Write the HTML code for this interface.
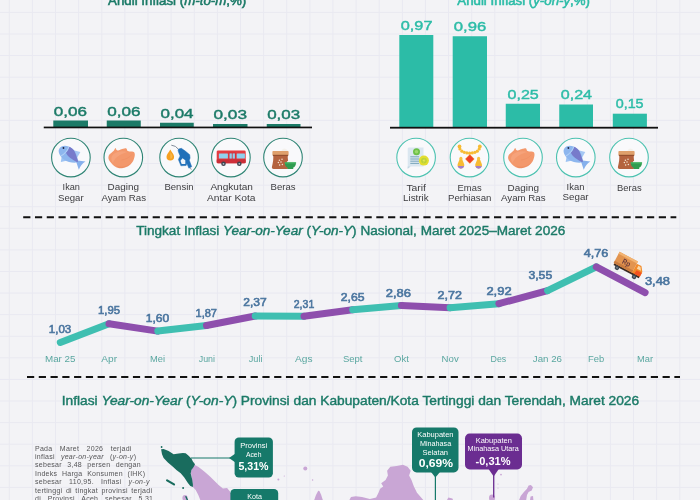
<!DOCTYPE html>
<html><head><meta charset="utf-8"><title>Inflasi</title>
<style>html,body{margin:0;padding:0;background:#f3f3f6;}body{width:700px;height:500px;overflow:hidden;}svg{display:block;font-family:"Liberation Sans",sans-serif;will-change:transform;}</style>
</head><body>
<svg width="700" height="500" viewBox="0 0 700 500">
<rect width="700" height="500" fill="#f3f3f6"/>
<path d="M9.30 0V500M32.42 0V500M55.54 0V500M78.66 0V500M101.78 0V500M124.90 0V500M148.02 0V500M171.14 0V500M194.26 0V500M217.38 0V500M240.50 0V500M263.62 0V500M286.74 0V500M309.86 0V500M332.98 0V500M356.10 0V500M379.22 0V500M402.34 0V500M425.46 0V500M448.58 0V500M471.70 0V500M494.82 0V500M517.94 0V500M541.06 0V500M564.18 0V500M587.30 0V500M610.42 0V500M633.54 0V500M656.66 0V500M679.78 0V500M0 -9.19H700M0 12.40H700M0 33.99H700M0 55.58H700M0 77.17H700M0 98.76H700M0 120.35H700M0 141.94H700M0 163.53H700M0 185.12H700M0 206.71H700M0 228.30H700M0 249.89H700M0 271.48H700M0 293.07H700M0 314.66H700M0 336.25H700M0 357.84H700M0 379.43H700M0 401.02H700M0 422.61H700M0 444.20H700M0 465.79H700M0 487.38H700" stroke="#e9e9f1" stroke-width="1" fill="none"/>
<text x="108" y="5" font-size="13" fill="#1b7a67" stroke="#1b7a67" stroke-width="0.55" textLength="138.3" lengthAdjust="spacingAndGlyphs">Andil Inflasi (<tspan font-style="italic">m-to-m</tspan>,%)</text>
<text x="457.3" y="5" font-size="13" fill="#2cbca7" stroke="#2cbca7" stroke-width="0.55" textLength="132.7" lengthAdjust="spacingAndGlyphs">Andil Inflasi (<tspan font-style="italic">y-on-y</tspan>,%)</text>
<rect x="53.3" y="120.5" width="34.70" height="6.70" fill="#1b7a67"/>
<rect x="106.75" y="120.5" width="34.00" height="6.70" fill="#1b7a67"/>
<rect x="160" y="122.75" width="33.75" height="4.45" fill="#1b7a67"/>
<rect x="213" y="124" width="34.50" height="3.20" fill="#1b7a67"/>
<rect x="266.75" y="124" width="33.75" height="3.20" fill="#1b7a67"/>
<rect x="43.75" y="126.6" width="268.25" height="1.7" fill="#111"/>
<text x="53.75" y="115.75" font-size="13.4" fill="#1b7a67" textLength="33.25" lengthAdjust="spacingAndGlyphs" stroke="#1b7a67" stroke-width="0.42">0,06</text>
<text x="107.2" y="115.75" font-size="13.4" fill="#1b7a67" textLength="33.3" lengthAdjust="spacingAndGlyphs" stroke="#1b7a67" stroke-width="0.42">0,06</text>
<text x="160.5" y="117.9" font-size="13.4" fill="#1b7a67" textLength="33.0" lengthAdjust="spacingAndGlyphs" stroke="#1b7a67" stroke-width="0.42">0,04</text>
<text x="213.5" y="119.2" font-size="13.4" fill="#1b7a67" textLength="33.5" lengthAdjust="spacingAndGlyphs" stroke="#1b7a67" stroke-width="0.42">0,03</text>
<text x="267.2" y="119.2" font-size="13.4" fill="#1b7a67" textLength="33.0" lengthAdjust="spacingAndGlyphs" stroke="#1b7a67" stroke-width="0.42">0,03</text>
<rect x="399.3" y="35" width="34.00" height="92.20" fill="#2cbca7"/>
<rect x="452.7" y="36.25" width="34.30" height="90.95" fill="#2cbca7"/>
<rect x="505.75" y="103.75" width="34.25" height="23.45" fill="#2cbca7"/>
<rect x="559.25" y="104.5" width="33.75" height="22.70" fill="#2cbca7"/>
<rect x="612.8" y="113.7" width="34.10" height="13.50" fill="#2cbca7"/>
<rect x="390" y="126.8" width="268" height="1.8" fill="#111"/>
<text x="400.75" y="30" font-size="13.4" fill="#2cbca7" textLength="31.75" lengthAdjust="spacingAndGlyphs" stroke="#2cbca7" stroke-width="0.42">0,97</text>
<text x="453.75" y="30.5" font-size="13.4" fill="#2cbca7" textLength="32.5" lengthAdjust="spacingAndGlyphs" stroke="#2cbca7" stroke-width="0.42">0,96</text>
<text x="507.5" y="98.5" font-size="13.4" fill="#2cbca7" textLength="31.25" lengthAdjust="spacingAndGlyphs" stroke="#2cbca7" stroke-width="0.42">0,25</text>
<text x="560.75" y="99.25" font-size="13.4" fill="#2cbca7" textLength="31.25" lengthAdjust="spacingAndGlyphs" stroke="#2cbca7" stroke-width="0.42">0,24</text>
<text x="615.7" y="108" font-size="13.4" fill="#2cbca7" textLength="27.9" lengthAdjust="spacingAndGlyphs" stroke="#2cbca7" stroke-width="0.42">0,15</text>
<circle cx="70.9" cy="157.6" r="19.3" fill="#f9f9fb" stroke="#2f8575" stroke-width="1.1"/>
<circle cx="123.3" cy="157.6" r="19.3" fill="#f9f9fb" stroke="#2f8575" stroke-width="1.1"/>
<circle cx="179.1" cy="157.6" r="19.3" fill="#f9f9fb" stroke="#2f8575" stroke-width="1.1"/>
<circle cx="230.9" cy="157.6" r="19.3" fill="#f9f9fb" stroke="#2f8575" stroke-width="1.1"/>
<circle cx="283.0" cy="157.6" r="19.3" fill="#f9f9fb" stroke="#2f8575" stroke-width="1.1"/>
<circle cx="416.1" cy="157.6" r="19.3" fill="#f9f9fb" stroke="#4cc2b0" stroke-width="1.1"/>
<circle cx="469.5" cy="157.6" r="19.3" fill="#f9f9fb" stroke="#4cc2b0" stroke-width="1.1"/>
<circle cx="523.0" cy="157.6" r="19.3" fill="#f9f9fb" stroke="#4cc2b0" stroke-width="1.1"/>
<circle cx="575.8" cy="157.6" r="19.3" fill="#f9f9fb" stroke="#4cc2b0" stroke-width="1.1"/>
<circle cx="629.0" cy="157.6" r="19.3" fill="#f9f9fb" stroke="#4cc2b0" stroke-width="1.1"/>
<g transform="translate(68.70,154.70) rotate(39)">
<path d="M9 0L17.4 -5.2Q15.6 0 17.4 5.4Z" fill="#86b0ec"/>
<path d="M0 -6.2L7.4 -9.4L8.4 -3.2Z" fill="#a6c8f4"/>
<path d="M-4.4 5.6L-1.6 10.6L2.6 5.4Z" fill="#9dc3f3"/>
<path d="M-11.2 0.4C-11.2 -4.2 -6.4 -7 -1 -7C4.4 -7 8.4 -3.4 11.4 -0.9V0.9C8.4 3.6 4.4 6.8 -1 6.8C-6.4 6.8 -11.2 4.4 -11.2 0.4Z" fill="#8db6ee"/>
<path d="M-4.6 -6.5C-2.6 -7 1 -7.2 3 -6C6.4 -4.2 9 -2.4 11.4 -0.9V0.4C6 1.6 0 2 -3.4 0.2C-3 -2 -3.4 -4.4 -4.6 -6.5Z" fill="#777bcb"/>
<path d="M-4.8 -6.2Q-2.8 0 -5.2 5.9" stroke="#b3d0f6" stroke-width="1" fill="none"/>
<circle cx="-8.3" cy="-2" r="0.95" fill="#1c2340"/>
</g>
<g transform="translate(123.30,157.60)">
<path d="M-14.9 -0.4C-14.8 -1.3 -14.5 -2.4 -13.9 -3.2C-13.3 -4.0 -12.2 -4.6 -11.5 -5.2C-10.8 -5.8 -10.1 -6.1 -9.5 -6.8C-8.9 -7.5 -8.4 -9.5 -7.9 -9.6C-7.4 -9.7 -7.2 -8.0 -6.7 -7.6C-6.2 -7.2 -5.9 -7.1 -5.1 -7.2C-4.3 -7.3 -3.0 -8.1 -1.9 -8.4C-0.8 -8.7 0.4 -9.1 1.3 -9.2C2.2 -9.3 2.8 -9.2 3.3 -8.8C3.8 -8.4 3.5 -7.3 4.1 -6.8C4.7 -6.3 5.8 -6.2 6.9 -6C8.0 -5.8 9.7 -6.1 10.5 -5.6C11.3 -5.1 11.4 -4.2 11.5 -3.2C11.6 -2.2 11.2 -0.7 10.9 0.4C10.6 1.5 10.4 2.5 9.7 3.6C9.0 4.7 8.0 5.9 6.9 6.8C5.8 7.7 4.2 8.6 2.9 9.2C1.6 9.8 0.2 10.4 -1.1 10.6C-2.4 10.8 -3.8 10.8 -5.1 10.4C-6.4 10.0 -7.9 9.3 -9.1 8.4C-10.3 7.5 -11.4 6.2 -12.3 5.2C-13.2 4.2 -13.9 3.3 -14.3 2.4C-14.7 1.5 -15.0 0.5 -14.9 -0.4Z" fill="#f3986c"/>
<path d="M-10 -3.4C-6 -6.4 0 -7.2 4.4 -5.6C1 -4.6 -3.6 -3 -6.8 -0.2C-8.6 1.4 -9.8 3.4 -10.2 5.2C-12.6 2.8 -12.4 -1.2 -10 -3.4Z" fill="#f7a680" opacity="0.7"/>
<path d="M-7 8.2C-2 10.2 4 9 8 5.2C6.6 9 0.6 11 -3.8 10.4C-5 10 -6.2 9.2 -7 8.2Z" fill="#ec8a5e" opacity="0.7"/>
<path d="M-2 2.4C2 2 6.4 0 8.4 -3" stroke="#ec8a5e" stroke-width="0.7" fill="none" opacity="0.6"/>
</g>
<g transform="translate(179.10,157.60)">
<path d="M-8.8 -8C-7.4 -5.4 -5 -3 -5 -0.9A3.8 3.8 0 0 1 -12.6 -0.9C-12.6 -3 -10.2 -5.4 -8.8 -8Z" fill="#f6a021"/>
<path d="M-8.8 -5.6C-8 -4 -6.6 -2.4 -6.6 -1A2.2 2.2 0 0 1 -8.8 1.2Z" fill="#f8b546"/>
<path d="M-7.4 -12.4Q-3.4 -12.2 -0.6 -8.4" stroke="#7c8794" stroke-width="0.95" fill="none" stroke-linecap="round"/>
<path d="M-0.6 -8.5L2.2 -9.3L6.2 -6.5L10.6 -2.9L11 0.3L10.2 2.7L12.6 9.1L9.8 10.6L7.8 5.9L7 7.9L1.8 8.2L-0.7 1.9L1 -1.7L-0.2 -4.5L-1 -6.9Z" fill="#2070b9" stroke="#2070b9" stroke-width="0.5" stroke-linejoin="round"/>
<path d="M3.4 0.7L6.2 2.7V6.3H2.6L1.4 3.1Z" fill="#eef4fa"/>
<path d="M10.6 10.2L11.6 9.8L12.6 12.2L12 12.5Z" fill="#8a97a6"/>
</g>
<g transform="translate(230.90,157.60)">
<rect x="-14.2" y="-7.2" width="29" height="12.8" rx="1.4" fill="#e23c41"/>
<rect x="-14.2" y="1.6" width="29" height="4" rx="0.8" fill="#c92f38"/>
<rect x="-12" y="-4.2" width="9" height="5" rx="0.5" fill="#8fd1ee"/>
<rect x="5.8" y="-4.2" width="8.2" height="5" rx="0.5" fill="#8fd1ee"/>
<rect x="-2.2" y="-5" width="7" height="10" fill="#cf2f3a"/>
<rect x="-1.4" y="-4.2" width="2.3" height="5.2" fill="#8fd1ee"/>
<rect x="1.7" y="-4.2" width="2.3" height="5.2" fill="#8fd1ee"/>
<circle cx="-7.4" cy="6.2" r="2.3" fill="#3e4450"/><circle cx="-7.4" cy="6.2" r="0.9" fill="#b9c2cc"/>
<circle cx="8.4" cy="6.2" r="2.3" fill="#3e4450"/><circle cx="8.4" cy="6.2" r="0.9" fill="#b9c2cc"/>
</g>
<g transform="translate(283.00,157.60)">
<path d="M-1.6 -6.4C-0.6 -9.8 2.8 -10.4 5 -6.4Z" fill="#f4f1ec"/>
<path d="M-9.8 -2.6L4.8 -2.6C4.4 1 5.6 5 6 9C6.2 10.6 5.4 11.4 4 11.4L-9.4 11.4C-10.8 11.4 -11.4 10.4 -11 9C-10 5 -9.4 1 -9.8 -2.6Z" fill="#b4633f"/>
<rect x="-10.6" y="-6.6" width="16.2" height="4.4" rx="0.8" fill="#dfa06c"/>
<rect x="-10.2" y="-2.8" width="15.4" height="1.1" fill="#8f4a2c"/>
<g fill="#f3e4d2"><circle cx="-3.6" cy="2.6" r="0.75"/><circle cx="-1" cy="1.6" r="0.75"/><circle cx="-4.6" cy="5" r="0.75"/><circle cx="-2" cy="4.4" r="0.75"/><circle cx="-3.4" cy="7.4" r="0.75"/><circle cx="-0.6" cy="6.8" r="0.75"/></g>
<ellipse cx="7.4" cy="4.8" rx="3.6" ry="1.9" fill="#f4f6f2"/>
<path d="M1.8 5H13C13 8.2 11.4 10 10 10.2L10.4 11.4H4.4L4.8 10.2C3.4 10 1.8 8.2 1.8 5Z" fill="#2f9c50"/>
<rect x="1.6" y="4.6" width="11.6" height="1.3" rx="0.6" fill="#46b565"/>
</g>
<g transform="translate(416.10,157.60)">
<path d="M-7 -10.2H7.4V8.8H-5.6L-8.4 11.2V-8.8Q-8.4 -10.2 -7 -10.2Z" fill="#dbe7f0"/>
<path d="M-5.6 8.8L-8.4 11.2V8.8Z" fill="#c3d6e2"/>
<path d="M-5.8 -0.8H3M-5.8 1.4H3M-5.8 3.6H3M-5.8 5.8H3" stroke="#7ba6bb" stroke-width="1" fill="none"/>
<circle cx="0.4" cy="-5.9" r="3.5" fill="#6dc048"/><circle cx="0.4" cy="-5.9" r="1.8" fill="#9bd86c"/>
<circle cx="7.8" cy="3" r="5" fill="#e3de2f"/><circle cx="7.8" cy="3" r="2.9" fill="#bcd33a"/>
<path d="M8.5 0.8L6.3 3.5H7.7L7.1 5.4L9.4 2.6H8Z" fill="#e8e65a"/>
</g>
<g transform="translate(469.50,157.60)">
<circle cx="-10" cy="-11.2" r="1.9" fill="#f7bb34"/><circle cx="-9.6" cy="-8.6" r="1.6" fill="#f7bb34"/><circle cx="-7.6" cy="-6.4" r="1.6" fill="#f7bb34"/><circle cx="-5.2" cy="-5.3" r="1.6" fill="#f7bb34"/><circle cx="-2.6" cy="-4.7" r="1.6" fill="#f7bb34"/><circle cx="0.1" cy="-4.4" r="1.6" fill="#f7bb34"/><circle cx="2.8" cy="-4.7" r="1.6" fill="#f7bb34"/><circle cx="5.4" cy="-5.3" r="1.6" fill="#f7bb34"/><circle cx="7.8" cy="-6.4" r="1.6" fill="#f7bb34"/><circle cx="9.7" cy="-8.6" r="1.6" fill="#f7bb34"/><circle cx="10.3" cy="-11.2" r="1.9" fill="#f7bb34"/>
<path d="M0.3 -3.4L5 1.4L0.3 6.2L-4.4 1.4Z" fill="#f7842a"/>
<path d="M0.3 -2.6L4.2 1.4L0.3 5.4L-3.6 1.4Z" fill="#ee3f2a"/>
<path d="M-9.7 1.2L-11.8 6.4A3.4 3.4 0 1 0 -5.3999999999999995 6.4L-7.5 1.2Z" fill="#f7bb34"/><circle cx="-8.6" cy="0.8" r="1.55" fill="#f8c23e"/><path d="M-11.899999999999999 8.5A3.4 3.4 0 0 0 -5.3 8.5Z" fill="#a27fca"/><path d="M8.0 1.2L5.8999999999999995 6.4A3.4 3.4 0 1 0 12.3 6.4L10.2 1.2Z" fill="#f7bb34"/><circle cx="9.1" cy="0.8" r="1.55" fill="#f8c23e"/><path d="M5.8 8.5A3.4 3.4 0 0 0 12.399999999999999 8.5Z" fill="#a27fca"/>
</g>
<g transform="translate(523.00,157.60)">
<path d="M-14.9 -0.4C-14.8 -1.3 -14.5 -2.4 -13.9 -3.2C-13.3 -4.0 -12.2 -4.6 -11.5 -5.2C-10.8 -5.8 -10.1 -6.1 -9.5 -6.8C-8.9 -7.5 -8.4 -9.5 -7.9 -9.6C-7.4 -9.7 -7.2 -8.0 -6.7 -7.6C-6.2 -7.2 -5.9 -7.1 -5.1 -7.2C-4.3 -7.3 -3.0 -8.1 -1.9 -8.4C-0.8 -8.7 0.4 -9.1 1.3 -9.2C2.2 -9.3 2.8 -9.2 3.3 -8.8C3.8 -8.4 3.5 -7.3 4.1 -6.8C4.7 -6.3 5.8 -6.2 6.9 -6C8.0 -5.8 9.7 -6.1 10.5 -5.6C11.3 -5.1 11.4 -4.2 11.5 -3.2C11.6 -2.2 11.2 -0.7 10.9 0.4C10.6 1.5 10.4 2.5 9.7 3.6C9.0 4.7 8.0 5.9 6.9 6.8C5.8 7.7 4.2 8.6 2.9 9.2C1.6 9.8 0.2 10.4 -1.1 10.6C-2.4 10.8 -3.8 10.8 -5.1 10.4C-6.4 10.0 -7.9 9.3 -9.1 8.4C-10.3 7.5 -11.4 6.2 -12.3 5.2C-13.2 4.2 -13.9 3.3 -14.3 2.4C-14.7 1.5 -15.0 0.5 -14.9 -0.4Z" fill="#f3986c"/>
<path d="M-10 -3.4C-6 -6.4 0 -7.2 4.4 -5.6C1 -4.6 -3.6 -3 -6.8 -0.2C-8.6 1.4 -9.8 3.4 -10.2 5.2C-12.6 2.8 -12.4 -1.2 -10 -3.4Z" fill="#f7a680" opacity="0.7"/>
<path d="M-7 8.2C-2 10.2 4 9 8 5.2C6.6 9 0.6 11 -3.8 10.4C-5 10 -6.2 9.2 -7 8.2Z" fill="#ec8a5e" opacity="0.7"/>
<path d="M-2 2.4C2 2 6.4 0 8.4 -3" stroke="#ec8a5e" stroke-width="0.7" fill="none" opacity="0.6"/>
</g>
<g transform="translate(573.60,154.70) rotate(39)">
<path d="M9 0L17.4 -5.2Q15.6 0 17.4 5.4Z" fill="#86b0ec"/>
<path d="M0 -6.2L7.4 -9.4L8.4 -3.2Z" fill="#a6c8f4"/>
<path d="M-4.4 5.6L-1.6 10.6L2.6 5.4Z" fill="#9dc3f3"/>
<path d="M-11.2 0.4C-11.2 -4.2 -6.4 -7 -1 -7C4.4 -7 8.4 -3.4 11.4 -0.9V0.9C8.4 3.6 4.4 6.8 -1 6.8C-6.4 6.8 -11.2 4.4 -11.2 0.4Z" fill="#8db6ee"/>
<path d="M-4.6 -6.5C-2.6 -7 1 -7.2 3 -6C6.4 -4.2 9 -2.4 11.4 -0.9V0.4C6 1.6 0 2 -3.4 0.2C-3 -2 -3.4 -4.4 -4.6 -6.5Z" fill="#777bcb"/>
<path d="M-4.8 -6.2Q-2.8 0 -5.2 5.9" stroke="#b3d0f6" stroke-width="1" fill="none"/>
<circle cx="-8.3" cy="-2" r="0.95" fill="#1c2340"/>
</g>
<g transform="translate(629.00,157.60)">
<path d="M-1.6 -6.4C-0.6 -9.8 2.8 -10.4 5 -6.4Z" fill="#f4f1ec"/>
<path d="M-9.8 -2.6L4.8 -2.6C4.4 1 5.6 5 6 9C6.2 10.6 5.4 11.4 4 11.4L-9.4 11.4C-10.8 11.4 -11.4 10.4 -11 9C-10 5 -9.4 1 -9.8 -2.6Z" fill="#b4633f"/>
<rect x="-10.6" y="-6.6" width="16.2" height="4.4" rx="0.8" fill="#dfa06c"/>
<rect x="-10.2" y="-2.8" width="15.4" height="1.1" fill="#8f4a2c"/>
<g fill="#f3e4d2"><circle cx="-3.6" cy="2.6" r="0.75"/><circle cx="-1" cy="1.6" r="0.75"/><circle cx="-4.6" cy="5" r="0.75"/><circle cx="-2" cy="4.4" r="0.75"/><circle cx="-3.4" cy="7.4" r="0.75"/><circle cx="-0.6" cy="6.8" r="0.75"/></g>
<ellipse cx="7.4" cy="4.8" rx="3.6" ry="1.9" fill="#f4f6f2"/>
<path d="M1.8 5H13C13 8.2 11.4 10 10 10.2L10.4 11.4H4.4L4.8 10.2C3.4 10 1.8 8.2 1.8 5Z" fill="#2f9c50"/>
<rect x="1.6" y="4.6" width="11.6" height="1.3" rx="0.6" fill="#46b565"/>
</g>
<text x="62.6" y="190" font-size="9.3" fill="#3d3d40" textLength="17.4" lengthAdjust="spacingAndGlyphs">Ikan</text>
<text x="58" y="200.6" font-size="9.3" fill="#3d3d40" textLength="25.6" lengthAdjust="spacingAndGlyphs">Segar</text>
<text x="107.6" y="190" font-size="9.3" fill="#3d3d40" textLength="31.4" lengthAdjust="spacingAndGlyphs">Daging</text>
<text x="101.4" y="200.6" font-size="9.3" fill="#3d3d40" textLength="44.6" lengthAdjust="spacingAndGlyphs">Ayam Ras</text>
<text x="164.4" y="190" font-size="9.3" fill="#3d3d40" textLength="29.2" lengthAdjust="spacingAndGlyphs">Bensin</text>
<text x="210.4" y="190" font-size="9.3" fill="#3d3d40" textLength="42.6" lengthAdjust="spacingAndGlyphs">Angkutan</text>
<text x="207" y="200.6" font-size="9.3" fill="#3d3d40" textLength="48.6" lengthAdjust="spacingAndGlyphs">Antar Kota</text>
<text x="270.6" y="190" font-size="9.3" fill="#3d3d40" textLength="25.0" lengthAdjust="spacingAndGlyphs">Beras</text>
<text x="406.4" y="191" font-size="9.3" fill="#3d3d40" textLength="19.6" lengthAdjust="spacingAndGlyphs">Tarif</text>
<text x="403" y="201.4" font-size="9.3" fill="#3d3d40" textLength="25.6" lengthAdjust="spacingAndGlyphs">Listrik</text>
<text x="457.6" y="191" font-size="9.3" fill="#3d3d40" textLength="24.0" lengthAdjust="spacingAndGlyphs">Emas</text>
<text x="448" y="201.4" font-size="9.3" fill="#3d3d40" textLength="43.4" lengthAdjust="spacingAndGlyphs">Perhiasan</text>
<text x="507.6" y="191" font-size="9.3" fill="#3d3d40" textLength="31.4" lengthAdjust="spacingAndGlyphs">Daging</text>
<text x="501" y="201.4" font-size="9.3" fill="#3d3d40" textLength="44.6" lengthAdjust="spacingAndGlyphs">Ayam Ras</text>
<text x="566.6" y="189.6" font-size="9.3" fill="#3d3d40" textLength="17.8" lengthAdjust="spacingAndGlyphs">Ikan</text>
<text x="562.6" y="199.9" font-size="9.3" fill="#3d3d40" textLength="26.0" lengthAdjust="spacingAndGlyphs">Segar</text>
<text x="617" y="191" font-size="9.3" fill="#3d3d40" textLength="24.6" lengthAdjust="spacingAndGlyphs">Beras</text>
<path d="M23.2 217.2H676.3" stroke="#111" stroke-width="2" stroke-dasharray="7.2 4.57" fill="none"/>
<path d="M27 376.9H680" stroke="#111" stroke-width="2" stroke-dasharray="7.2 4.57" fill="none"/>
<text x="136.25" y="235" font-size="12.6" fill="#1b7a67" stroke="#1b7a67" stroke-width="0.4" textLength="429" lengthAdjust="spacingAndGlyphs">Tingkat Inflasi <tspan font-style="italic">Year-on-Year</tspan> (<tspan font-style="italic">Y-on-Y</tspan>) Nasional, Maret 2025–Maret 2026</text>
<path d="M60.3 342.5L109 323.8" stroke="#3fbfb1" stroke-width="7" stroke-linecap="round" fill="none"/>
<path d="M109 323.8L157.8 331.1" stroke="#8e4fad" stroke-width="7" stroke-linecap="round" fill="none"/>
<path d="M157.8 331.1L206.5 325.5" stroke="#3fbfb1" stroke-width="7" stroke-linecap="round" fill="none"/>
<path d="M206.5 325.5L255.2 316" stroke="#8e4fad" stroke-width="7" stroke-linecap="round" fill="none"/>
<path d="M255.2 316L304 316.2" stroke="#3fbfb1" stroke-width="7" stroke-linecap="round" fill="none"/>
<path d="M304 316.2L352.7 309.7" stroke="#8e4fad" stroke-width="7" stroke-linecap="round" fill="none"/>
<path d="M352.7 309.7L401.4 305.4" stroke="#3fbfb1" stroke-width="7" stroke-linecap="round" fill="none"/>
<path d="M401.4 305.4L450.1 307.8" stroke="#8e4fad" stroke-width="7" stroke-linecap="round" fill="none"/>
<path d="M450.1 307.8L498.9 303.7" stroke="#3fbfb1" stroke-width="7" stroke-linecap="round" fill="none"/>
<path d="M498.9 303.7L547.6 290.6" stroke="#8e4fad" stroke-width="7" stroke-linecap="round" fill="none"/>
<path d="M547.6 290.6L596.3 266.8" stroke="#3fbfb1" stroke-width="7" stroke-linecap="round" fill="none"/>
<path d="M596.3 266.8L645.1 292.6" stroke="#8e4fad" stroke-width="7" stroke-linecap="round" fill="none"/>
<text x="48.75" y="332.5" font-size="11.6" fill="#4a759f" textLength="22.5" lengthAdjust="spacingAndGlyphs" stroke="#4a759f" stroke-width="0.6">1,03</text>
<text x="98" y="313.75" font-size="11.6" fill="#4a759f" textLength="22" lengthAdjust="spacingAndGlyphs" stroke="#4a759f" stroke-width="0.6">1,95</text>
<text x="145.75" y="321.75" font-size="11.6" fill="#4a759f" textLength="23.5" lengthAdjust="spacingAndGlyphs" stroke="#4a759f" stroke-width="0.6">1,60</text>
<text x="195.5" y="316.75" font-size="11.6" fill="#4a759f" textLength="21.5" lengthAdjust="spacingAndGlyphs" stroke="#4a759f" stroke-width="0.6">1,87</text>
<text x="243.25" y="306.25" font-size="11.6" fill="#4a759f" textLength="23.5" lengthAdjust="spacingAndGlyphs" stroke="#4a759f" stroke-width="0.6">2,37</text>
<text x="293.75" y="307.5" font-size="11.6" fill="#4a759f" textLength="20.5" lengthAdjust="spacingAndGlyphs" stroke="#4a759f" stroke-width="0.6">2,31</text>
<text x="340.75" y="300.5" font-size="11.6" fill="#4a759f" textLength="23.75" lengthAdjust="spacingAndGlyphs" stroke="#4a759f" stroke-width="0.6">2,65</text>
<text x="385.8" y="296.8" font-size="11.6" fill="#4a759f" textLength="25.2" lengthAdjust="spacingAndGlyphs" stroke="#4a759f" stroke-width="0.6">2,86</text>
<text x="437.6" y="298.8" font-size="11.6" fill="#4a759f" textLength="24.4" lengthAdjust="spacingAndGlyphs" stroke="#4a759f" stroke-width="0.6">2,72</text>
<text x="486.4" y="294.6" font-size="11.6" fill="#4a759f" textLength="25.2" lengthAdjust="spacingAndGlyphs" stroke="#4a759f" stroke-width="0.6">2,92</text>
<text x="528.4" y="279.2" font-size="11.6" fill="#4a759f" textLength="23.8" lengthAdjust="spacingAndGlyphs" stroke="#4a759f" stroke-width="0.6">3,55</text>
<text x="583.8" y="256.8" font-size="11.6" fill="#4a759f" textLength="24.6" lengthAdjust="spacingAndGlyphs" stroke="#4a759f" stroke-width="0.6">4,76</text>
<text x="644.9" y="285.4" font-size="11.6" fill="#4a759f" textLength="25.1" lengthAdjust="spacingAndGlyphs" stroke="#4a759f" stroke-width="0.6">3,48</text>
<text x="45" y="362.2" font-size="9.3" fill="#5aa7a0" textLength="30.5" lengthAdjust="spacingAndGlyphs">Mar 25</text>
<text x="101.25" y="362.2" font-size="9.3" fill="#5aa7a0" textLength="15.75" lengthAdjust="spacingAndGlyphs">Apr</text>
<text x="150" y="362.2" font-size="9.3" fill="#5aa7a0" textLength="15" lengthAdjust="spacingAndGlyphs">Mei</text>
<text x="198.75" y="362.2" font-size="9.3" fill="#5aa7a0" textLength="16.25" lengthAdjust="spacingAndGlyphs">Juni</text>
<text x="248.75" y="362.2" font-size="9.3" fill="#5aa7a0" textLength="13.75" lengthAdjust="spacingAndGlyphs">Juli</text>
<text x="295" y="362.2" font-size="9.3" fill="#5aa7a0" textLength="17.5" lengthAdjust="spacingAndGlyphs">Ags</text>
<text x="343" y="362.2" font-size="9.3" fill="#5aa7a0" textLength="19.5" lengthAdjust="spacingAndGlyphs">Sept</text>
<text x="394" y="362.2" font-size="9.3" fill="#5aa7a0" textLength="14.8" lengthAdjust="spacingAndGlyphs">Okt</text>
<text x="441.6" y="362.2" font-size="9.3" fill="#5aa7a0" textLength="17.1" lengthAdjust="spacingAndGlyphs">Nov</text>
<text x="490.6" y="362.2" font-size="9.3" fill="#5aa7a0" textLength="15.7" lengthAdjust="spacingAndGlyphs">Des</text>
<text x="532.8" y="362.2" font-size="9.3" fill="#5aa7a0" textLength="29.2" lengthAdjust="spacingAndGlyphs">Jan 26</text>
<text x="588" y="362.2" font-size="9.3" fill="#5aa7a0" textLength="16.2" lengthAdjust="spacingAndGlyphs">Feb</text>
<text x="637" y="362.2" font-size="9.3" fill="#5aa7a0" textLength="16" lengthAdjust="spacingAndGlyphs">Mar</text>
<g transform="translate(614,264) rotate(28)">
<rect x="0" y="-1.2" width="28.6" height="2.2" fill="#3b2a22"/>
<rect x="-0.8" y="-13.4" width="20.8" height="12.6" fill="#e2944f"/>
<rect x="-0.8" y="-13.4" width="20.8" height="2.2" fill="#f3b472"/>
<rect x="-0.8" y="-3.2" width="20.8" height="2.4" fill="#c97b3f"/>
<path d="M20 -11H25.2L28.8 -6.2V-0.8H20Z" fill="#f38b2a"/>
<path d="M23 -5.2H28.8V-0.8H22.2Z" fill="#f4521f"/>
<path d="M22.4 -9.8H24.8L27 -6.6H22.4Z" fill="#fbd9a8"/>
<text x="6.2" y="-4.4" font-size="7.6" font-weight="bold" fill="#6d3b3c" textLength="8.4" lengthAdjust="spacingAndGlyphs">Rp</text>
<circle cx="4.4" cy="1.9" r="2.3" fill="#3f4853"/><circle cx="4.4" cy="1.9" r="0.9" fill="#7d8892"/>
<circle cx="23.7" cy="1.9" r="2.3" fill="#3f4853"/><circle cx="23.7" cy="1.9" r="0.9" fill="#7d8892"/>
</g>
<text x="61.75" y="404.5" font-size="12.6" fill="#1b7a67" stroke="#1b7a67" stroke-width="0.4" textLength="577.4" lengthAdjust="spacingAndGlyphs">Inflasi <tspan font-style="italic">Year-on-Year</tspan> (<tspan font-style="italic">Y-on-Y</tspan>) Provinsi dan Kabupaten/Kota Tertinggi dan Terendah, Maret 2026</text>
<text x="35" y="450.6" font-size="7.0" fill="#555557" letter-spacing="0.28" word-spacing="5.175">Pada Maret 2026 terjadi</text>
<text x="35" y="458.8" font-size="7.0" fill="#555557" letter-spacing="0.28" word-spacing="3.828">inflasi <tspan font-style="italic">year-on-year</tspan> (<tspan font-style="italic">y-on-y</tspan>)</text>
<text x="35" y="467.2" font-size="7.0" fill="#555557" letter-spacing="0.28" word-spacing="3.158">sebesar 3,48 persen dengan</text>
<text x="35" y="475.6" font-size="7.0" fill="#555557" letter-spacing="0.28" word-spacing="2.463">Indeks Harga Konsumen (IHK)</text>
<text x="35" y="484.2" font-size="7.0" fill="#555557" letter-spacing="0.28" word-spacing="4.982">sebesar 110,95. Inflasi <tspan font-style="italic">y-on-y</tspan></text>
<text x="35" y="492.5" font-size="7.0" fill="#555557" letter-spacing="0.28" word-spacing="1.242">tertinggi di tingkat provinsi terjadi</text>
<text x="35" y="501" font-size="7.0" fill="#555557" letter-spacing="0.28" word-spacing="4.484">di Provinsi Aceh sebesar 5,31</text>
<polygon points="193.6,464.3 198.6,467.1 204.3,471.4 210.0,476.4 214.3,480.7 218.6,485.0 222.9,488.6 227.1,488.1 230.0,491.4 231.7,495.0 233.6,502.1 235.7,506.4 198.6,506.4 200.3,500.0 198.3,495.0 195.7,490.0 192.9,487.1 191.7,477.9 190.7,472.1" fill="#c9a6d5"/>
<polygon points="161.1,449.3 163.6,448.9 168.6,451.0 173.6,454.3 178.6,453.6 182.9,452.9 185.7,453.3 188.6,455.7 191.4,458.6 192.9,461.4 195.0,464.3 193.6,467.1 191.4,470.0 190.7,473.6 192.1,479.3 192.9,484.3 192.9,487.1 190.3,486.1 187.9,482.9 184.3,477.6 180.7,473.3 176.4,470.0 172.9,466.7 167.9,462.4 163.6,458.1 162.0,454.3" fill="#196c5e"/>
<circle cx="161.6" cy="447.0" r="0.9" fill="#196c5e"/>
<path d="M167.1 480.4L174.0 484.4" stroke="#196c5e" stroke-width="2.2" stroke-linecap="round"/>
<circle cx="183.1" cy="487.9" r="1" fill="#196c5e"/>
<ellipse cx="185.0" cy="497.9" rx="2.6" ry="3" fill="#c9a6d5"/>
<path d="M186.0 496.7L187.4 500.0" stroke="#196c5e" stroke-width="1.4" stroke-linecap="round"/>
<circle cx="305.3" cy="468.6" r="2" fill="#c9a6d5"/>
<circle cx="278.4" cy="479.6" r="1" fill="#c9a6d5"/>
<circle cx="284.3" cy="476" r="0.6" fill="#c9a6d5"/>
<circle cx="312.6" cy="480" r="0.7" fill="#c9a6d5"/>
<polygon points="318.2,490.8 319.4,491 321,494.4 322.8,500 314.2,500 316,495" fill="#c9a6d5"/>
<polygon points="349.4,499.9 351.0,497.1 355.7,496.2 362.0,497.1 369.9,499.0 376.1,497.4 378.5,492.7 380.1,488.8 383.2,486.4 381.2,483.3 385.6,480.1 387.9,475.4 387.1,470.7 390.3,466.8 396.6,466.0 402.9,464.7 407.6,466.8 410.7,470.7 409.1,475.4 411.5,480.1 413.9,486.4 417.0,492.7 423.3,499.9" fill="#c9a6d5"/>
<polygon points="447,500 448.4,497.6 452.4,498.4 453,500" fill="#c9a6d5"/>
<polygon points="530.9,484.9 533.0,487.2 531.7,490.4 528.6,491.9 527.0,495.1 526.2,499.9 519.1,499.9 520.7,495.9 523.9,491.9 527.0,488.8 528.6,485.6" fill="#c9a6d5"/>
<polygon points="530,500 530.6,496.6 533,496 533.4,500" fill="#c9a6d5"/>
<circle cx="501" cy="474.6" r="0.9" fill="#c9a6d5"/><circle cx="498" cy="484" r="0.5" fill="#c9a6d5"/><circle cx="498" cy="488" r="0.5" fill="#c9a6d5"/>
<ellipse cx="492" cy="498" rx="3" ry="3.4" fill="#c9a6d5"/>
<path d="M191 458H231" stroke="#16796a" stroke-width="1"/>
<polygon points="229,458 235.5,453.4 235.5,462.6" fill="#16796a"/>
<rect x="234.6" y="437.6" width="38.3" height="39.8" rx="4.2" fill="#16796a"/>
<text x="253.7" y="448.4" font-size="7.4" fill="#fff" text-anchor="middle" textLength="27" lengthAdjust="spacingAndGlyphs">Provinsi</text>
<text x="253.7" y="456.6" font-size="7.4" fill="#fff" text-anchor="middle" textLength="15.5" lengthAdjust="spacingAndGlyphs">Aceh</text>
<text x="238.4" y="470.2" font-size="11.2" font-weight="bold" fill="#fff" textLength="30.2" lengthAdjust="spacingAndGlyphs">5,31%</text>
<rect x="230.4" y="489" width="47.8" height="20" rx="4.2" fill="#16796a"/>
<text x="247.3" y="498.7" font-size="7.4" fill="#fff" textLength="14.6" lengthAdjust="spacingAndGlyphs">Kota</text>
<path d="M435.4 474V500" stroke="#16796a" stroke-width="1.2"/>
<polygon points="430.6,471.4 440.4,471.4 435.4,477.6" fill="#16796a"/>
<rect x="412" y="427.4" width="46.5" height="45" rx="4.6" fill="#16796a"/>
<text x="417.3" y="437.1" font-size="7.2" fill="#fff" textLength="36.2" lengthAdjust="spacingAndGlyphs">Kabupaten</text>
<text x="420" y="445.8" font-size="7.2" fill="#fff" textLength="31.2" lengthAdjust="spacingAndGlyphs">Minahasa</text>
<text x="422.5" y="454.5" font-size="7.2" fill="#fff" textLength="25.5" lengthAdjust="spacingAndGlyphs">Selatan</text>
<text x="418.7" y="467.1" font-size="11.4" font-weight="bold" fill="#fff" textLength="34.4" lengthAdjust="spacingAndGlyphs">0,69%</text>
<path d="M493.7 473V497.4" stroke="#6b2d91" stroke-width="1.3"/>
<polygon points="488.4,468.8 499,468.8 493.7,476.4" fill="#6b2d91"/>
<rect x="465" y="433.6" width="57" height="35.8" rx="4.6" fill="#6b2d91"/>
<text x="475.7" y="442.6" font-size="7.2" fill="#fff" textLength="36.2" lengthAdjust="spacingAndGlyphs">Kabupaten</text>
<text x="467.5" y="451.4" font-size="7.2" fill="#fff" textLength="51.2" lengthAdjust="spacingAndGlyphs">Minahasa Utara</text>
<text x="475.5" y="464.6" font-size="11.4" font-weight="bold" fill="#fff" textLength="35" lengthAdjust="spacingAndGlyphs">-0,31%</text>
</svg></body></html>
